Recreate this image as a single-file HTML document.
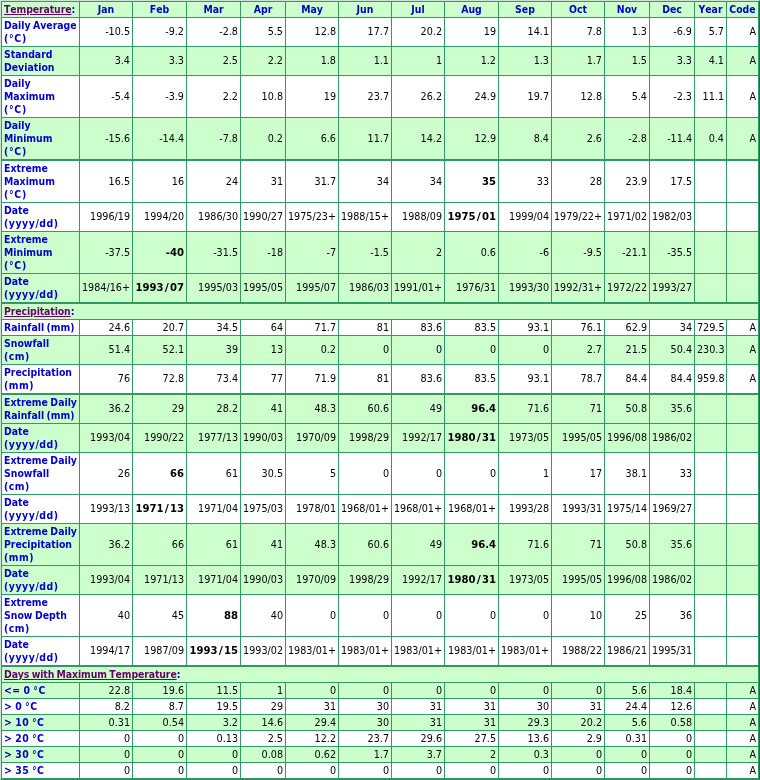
<!DOCTYPE html>
<html lang="en"><head><meta charset="utf-8"><title>Climate Normals</title>
<style>
html,body{margin:0;padding:0;background:#fff;}
body{width:760px;height:780px;overflow:hidden;}
.wrap{box-sizing:border-box;width:760px;height:780px;border-style:solid;border-width:1px;border-color:#cbe4d8 #1f6b45 #2e8b57 #cbe4d8;overflow:hidden;}
table.clim{border-collapse:separate;border-spacing:0;table-layout:fixed;width:758px;border-top:1px solid #339966;border-left:1px solid #339966;font-family:"DejaVu Sans Condensed","DejaVu Sans","Liberation Sans",sans-serif;font-size:10.7px;line-height:13px;color:#000;font-kerning:none;}
table.clim th,table.clim td{box-sizing:border-box;border-right:1px solid #339966;border-bottom:1px solid #339966;padding:1px 2px;vertical-align:middle;white-space:nowrap;overflow:hidden;}
table.clim td{text-align:right;font-weight:normal;}
table.clim th{font-weight:bold;color:#0000cc;font-size:10.4px;}
table.clim th.lab,table.clim th.sec{text-align:left;}
table.clim th.mon{text-align:center;}
table.clim tr.g>*{background:#ccffcc;}
table.clim tr.w>*{background:#ffffff;}
table.clim tr.tk>*{border-bottom:2px solid #319763;}
table.clim a{color:#660066;text-decoration:underline;letter-spacing:-0.1px;}
table.clim b{font-weight:bold;font-size:10.5px;}
table.clim tr.r2>td{vertical-align:top;padding-top:7px;}
table.clim th.lab,table.clim th.sec{word-spacing:-0.8px;}
table.clim .ymd{letter-spacing:0.55px;}
table.clim .pc{letter-spacing:0.7px;}
table.clim .pu{letter-spacing:0.5px;}
table.clim th.deg{letter-spacing:0.45px;}
table.clim b{font-size:11.2px;}
table.clim b i{font-style:normal;font-family:"DejaVu Sans",sans-serif;margin:0 1.2px;}

</style></head><body>
<div class="wrap">
<table class="clim" cellspacing="0" cellpadding="0">
<colgroup>
<col style="width:78px">
<col style="width:53px">
<col style="width:54px">
<col style="width:54px">
<col style="width:45px">
<col style="width:53px">
<col style="width:53px">
<col style="width:53px">
<col style="width:54px">
<col style="width:53px">
<col style="width:53px">
<col style="width:45px">
<col style="width:45px">
<col style="width:32px">
<col style="width:32px">
</colgroup>
<tr class="g" style="height:16px">
<th class="lab"><a>Temperature</a>:</th>
<th class="mon">Jan</th>
<th class="mon">Feb</th>
<th class="mon">Mar</th>
<th class="mon">Apr</th>
<th class="mon">May</th>
<th class="mon">Jun</th>
<th class="mon">Jul</th>
<th class="mon">Aug</th>
<th class="mon">Sep</th>
<th class="mon">Oct</th>
<th class="mon">Nov</th>
<th class="mon">Dec</th>
<th class="mon">Year</th>
<th class="mon">Code</th>
</tr>
<tr class="w r2" style="height:29px">
<th class="lab">Daily Average<br><span class="pc">(°C)</span></th>
<td>-10.5</td>
<td>-9.2</td>
<td>-2.8</td>
<td>5.5</td>
<td>12.8</td>
<td>17.7</td>
<td>20.2</td>
<td>19</td>
<td>14.1</td>
<td>7.8</td>
<td>1.3</td>
<td>-6.9</td>
<td>5.7</td>
<td>A</td>
</tr>
<tr class="g r2" style="height:29px">
<th class="lab">Standard<br>Deviation</th>
<td>3.4</td>
<td>3.3</td>
<td>2.5</td>
<td>2.2</td>
<td>1.8</td>
<td>1.1</td>
<td>1</td>
<td>1.2</td>
<td>1.3</td>
<td>1.7</td>
<td>1.5</td>
<td>3.3</td>
<td>4.1</td>
<td>A</td>
</tr>
<tr class="w" style="height:42px">
<th class="lab">Daily<br>Maximum<br><span class="pc">(°C)</span></th>
<td>-5.4</td>
<td>-3.9</td>
<td>2.2</td>
<td>10.8</td>
<td>19</td>
<td>23.7</td>
<td>26.2</td>
<td>24.9</td>
<td>19.7</td>
<td>12.8</td>
<td>5.4</td>
<td>-2.3</td>
<td>11.1</td>
<td>A</td>
</tr>
<tr class="g tk" style="height:43px">
<th class="lab">Daily<br>Minimum<br><span class="pc">(°C)</span></th>
<td>-15.6</td>
<td>-14.4</td>
<td>-7.8</td>
<td>0.2</td>
<td>6.6</td>
<td>11.7</td>
<td>14.2</td>
<td>12.9</td>
<td>8.4</td>
<td>2.6</td>
<td>-2.8</td>
<td>-11.4</td>
<td>0.4</td>
<td>A</td>
</tr>
<tr class="w" style="height:42px">
<th class="lab">Extreme<br>Maximum<br><span class="pc">(°C)</span></th>
<td>16.5</td>
<td>16</td>
<td>24</td>
<td>31</td>
<td>31.7</td>
<td>34</td>
<td>34</td>
<td><b>35</b></td>
<td>33</td>
<td>28</td>
<td>23.9</td>
<td>17.5</td>
<td></td>
<td></td>
</tr>
<tr class="w r2" style="height:29px">
<th class="lab">Date<br><span class="ymd">(yyyy/dd)</span></th>
<td>1996/19</td>
<td>1994/20</td>
<td>1986/30</td>
<td>1990/27</td>
<td>1975/23+</td>
<td>1988/15+</td>
<td>1988/09</td>
<td><b>1975<i>/</i>01</b></td>
<td>1999/04</td>
<td>1979/22+</td>
<td>1971/02</td>
<td>1982/03</td>
<td></td>
<td></td>
</tr>
<tr class="g" style="height:42px">
<th class="lab">Extreme<br>Minimum<br><span class="pc">(°C)</span></th>
<td>-37.5</td>
<td><b>-40</b></td>
<td>-31.5</td>
<td>-18</td>
<td>-7</td>
<td>-1.5</td>
<td>2</td>
<td>0.6</td>
<td>-6</td>
<td>-9.5</td>
<td>-21.1</td>
<td>-35.5</td>
<td></td>
<td></td>
</tr>
<tr class="g tk r2" style="height:30px">
<th class="lab">Date<br><span class="ymd">(yyyy/dd)</span></th>
<td>1984/16+</td>
<td><b>1993<i>/</i>07</b></td>
<td>1995/03</td>
<td>1995/05</td>
<td>1995/07</td>
<td>1986/03</td>
<td>1991/01+</td>
<td>1976/31</td>
<td>1993/30</td>
<td>1992/31+</td>
<td>1972/22</td>
<td>1993/27</td>
<td></td>
<td></td>
</tr>
<tr class="g" style="height:16px">
<th class="sec" colspan="15"><a>Precipitation</a>:</th>
</tr>
<tr class="w" style="height:16px">
<th class="lab">Rainfall (mm)</th>
<td>24.6</td>
<td>20.7</td>
<td>34.5</td>
<td>64</td>
<td>71.7</td>
<td>81</td>
<td>83.6</td>
<td>83.5</td>
<td>93.1</td>
<td>76.1</td>
<td>62.9</td>
<td>34</td>
<td>729.5</td>
<td>A</td>
</tr>
<tr class="g r2" style="height:29px">
<th class="lab">Snowfall<br><span class="pu">(cm)</span></th>
<td>51.4</td>
<td>52.1</td>
<td>39</td>
<td>13</td>
<td>0.2</td>
<td>0</td>
<td>0</td>
<td>0</td>
<td>0</td>
<td>2.7</td>
<td>21.5</td>
<td>50.4</td>
<td>230.3</td>
<td>A</td>
</tr>
<tr class="w tk r2" style="height:30px">
<th class="lab">Precipitation<br><span class="pu">(mm)</span></th>
<td>76</td>
<td>72.8</td>
<td>73.4</td>
<td>77</td>
<td>71.9</td>
<td>81</td>
<td>83.6</td>
<td>83.5</td>
<td>93.1</td>
<td>78.7</td>
<td>84.4</td>
<td>84.4</td>
<td>959.8</td>
<td>A</td>
</tr>
<tr class="g r2" style="height:29px">
<th class="lab">Extreme Daily<br>Rainfall (mm)</th>
<td>36.2</td>
<td>29</td>
<td>28.2</td>
<td>41</td>
<td>48.3</td>
<td>60.6</td>
<td>49</td>
<td><b>96.4</b></td>
<td>71.6</td>
<td>71</td>
<td>50.8</td>
<td>35.6</td>
<td></td>
<td></td>
</tr>
<tr class="g r2" style="height:29px">
<th class="lab">Date<br><span class="ymd">(yyyy/dd)</span></th>
<td>1993/04</td>
<td>1990/22</td>
<td>1977/13</td>
<td>1990/03</td>
<td>1970/09</td>
<td>1998/29</td>
<td>1992/17</td>
<td><b>1980<i>/</i>31</b></td>
<td>1973/05</td>
<td>1995/05</td>
<td>1996/08</td>
<td>1986/02</td>
<td></td>
<td></td>
</tr>
<tr class="w" style="height:42px">
<th class="lab">Extreme Daily<br>Snowfall<br><span class="pu">(cm)</span></th>
<td>26</td>
<td><b>66</b></td>
<td>61</td>
<td>30.5</td>
<td>5</td>
<td>0</td>
<td>0</td>
<td>0</td>
<td>1</td>
<td>17</td>
<td>38.1</td>
<td>33</td>
<td></td>
<td></td>
</tr>
<tr class="w r2" style="height:29px">
<th class="lab">Date<br><span class="ymd">(yyyy/dd)</span></th>
<td>1993/13</td>
<td><b>1971<i>/</i>13</b></td>
<td>1971/04</td>
<td>1975/03</td>
<td>1978/01</td>
<td>1968/01+</td>
<td>1968/01+</td>
<td>1968/01+</td>
<td>1993/28</td>
<td>1993/31</td>
<td>1975/14</td>
<td>1969/27</td>
<td></td>
<td></td>
</tr>
<tr class="g" style="height:42px">
<th class="lab">Extreme Daily<br>Precipitation<br><span class="pu">(mm)</span></th>
<td>36.2</td>
<td>66</td>
<td>61</td>
<td>41</td>
<td>48.3</td>
<td>60.6</td>
<td>49</td>
<td><b>96.4</b></td>
<td>71.6</td>
<td>71</td>
<td>50.8</td>
<td>35.6</td>
<td></td>
<td></td>
</tr>
<tr class="g r2" style="height:29px">
<th class="lab">Date<br><span class="ymd">(yyyy/dd)</span></th>
<td>1993/04</td>
<td>1971/13</td>
<td>1971/04</td>
<td>1990/03</td>
<td>1970/09</td>
<td>1998/29</td>
<td>1992/17</td>
<td><b>1980<i>/</i>31</b></td>
<td>1973/05</td>
<td>1995/05</td>
<td>1996/08</td>
<td>1986/02</td>
<td></td>
<td></td>
</tr>
<tr class="w" style="height:42px">
<th class="lab">Extreme<br>Snow Depth<br><span class="pu">(cm)</span></th>
<td>40</td>
<td>45</td>
<td><b>88</b></td>
<td>40</td>
<td>0</td>
<td>0</td>
<td>0</td>
<td>0</td>
<td>0</td>
<td>10</td>
<td>25</td>
<td>36</td>
<td></td>
<td></td>
</tr>
<tr class="w tk r2" style="height:30px">
<th class="lab">Date<br><span class="ymd">(yyyy/dd)</span></th>
<td>1994/17</td>
<td>1987/09</td>
<td><b>1993<i>/</i>15</b></td>
<td>1993/02</td>
<td>1983/01+</td>
<td>1983/01+</td>
<td>1983/01+</td>
<td>1983/01+</td>
<td>1983/01+</td>
<td>1988/22</td>
<td>1986/21</td>
<td>1995/31</td>
<td></td>
<td></td>
</tr>
<tr class="g" style="height:16px">
<th class="sec" colspan="15"><a>Days with Maximum Temperature</a>:</th>
</tr>
<tr class="g" style="height:16px">
<th class="lab deg">&lt;= 0 °C</th>
<td>22.8</td>
<td>19.6</td>
<td>11.5</td>
<td>1</td>
<td>0</td>
<td>0</td>
<td>0</td>
<td>0</td>
<td>0</td>
<td>0</td>
<td>5.6</td>
<td>18.4</td>
<td></td>
<td>A</td>
</tr>
<tr class="w" style="height:16px">
<th class="lab deg">&gt; 0 °C</th>
<td>8.2</td>
<td>8.7</td>
<td>19.5</td>
<td>29</td>
<td>31</td>
<td>30</td>
<td>31</td>
<td>31</td>
<td>30</td>
<td>31</td>
<td>24.4</td>
<td>12.6</td>
<td></td>
<td>A</td>
</tr>
<tr class="g" style="height:16px">
<th class="lab deg">&gt; 10 °C</th>
<td>0.31</td>
<td>0.54</td>
<td>3.2</td>
<td>14.6</td>
<td>29.4</td>
<td>30</td>
<td>31</td>
<td>31</td>
<td>29.3</td>
<td>20.2</td>
<td>5.6</td>
<td>0.58</td>
<td></td>
<td>A</td>
</tr>
<tr class="w" style="height:16px">
<th class="lab deg">&gt; 20 °C</th>
<td>0</td>
<td>0</td>
<td>0.13</td>
<td>2.5</td>
<td>12.2</td>
<td>23.7</td>
<td>29.6</td>
<td>27.5</td>
<td>13.6</td>
<td>2.9</td>
<td>0.31</td>
<td>0</td>
<td></td>
<td>A</td>
</tr>
<tr class="g" style="height:16px">
<th class="lab deg">&gt; 30 °C</th>
<td>0</td>
<td>0</td>
<td>0</td>
<td>0.08</td>
<td>0.62</td>
<td>1.7</td>
<td>3.7</td>
<td>2</td>
<td>0.3</td>
<td>0</td>
<td>0</td>
<td>0</td>
<td></td>
<td>A</td>
</tr>
<tr class="w" style="height:16px">
<th class="lab deg">&gt; 35 °C</th>
<td>0</td>
<td>0</td>
<td>0</td>
<td>0</td>
<td>0</td>
<td>0</td>
<td>0</td>
<td>0</td>
<td>0</td>
<td>0</td>
<td>0</td>
<td>0</td>
<td></td>
<td>A</td>
</tr>
</table>
</div>
</body></html>
